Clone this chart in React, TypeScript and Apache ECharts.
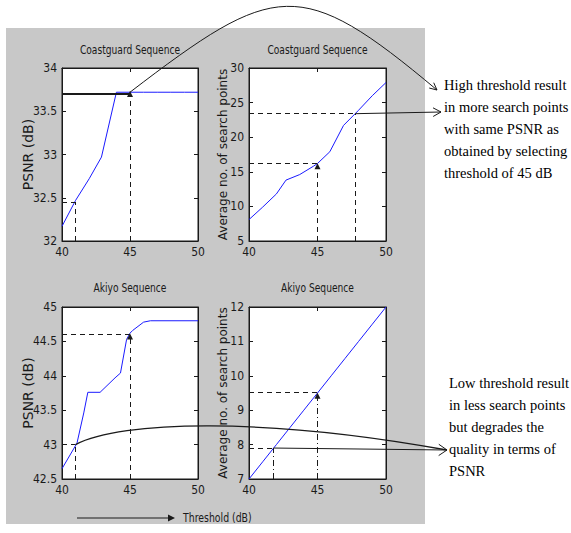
import React, { useEffect, useRef } from "react";
import * as echarts from "echarts";

// ---- data ----
const xRange = { min: 40, max: 50, interval: 5 };

const cgThreshold = [40, 41, 42, 42.9, 44, 45, 46, 47, 48, 49, 50];
const cgPsnr = [32.17, 32.47, 32.72, 32.97, 33.72, 33.72, 33.72, 33.72, 33.72, 33.72, 33.72];

const cgSpThreshold = [40, 41, 42, 42.7, 43.7, 44.7, 45, 45.9, 46.9, 47.75, 48, 49, 50];
const cgSearchPoints = [8.1, 9.9, 11.8, 13.8, 14.6, 15.8, 16.2, 17.9, 21.7, 23.4, 23.9, 26, 27.9];

const akThreshold = [40, 41.1, 41.6, 41.9, 42.8, 43.9, 44.3, 44.75, 45, 45.2, 46, 46.5, 50];
const akPsnr = [42.65, 43.02, 43.46, 43.76, 43.76, 43.97, 44.04, 44.53, 44.62, 44.66, 44.78, 44.8, 44.8];

const akSpThreshold = [40, 41, 42, 43, 44, 45, 46, 47, 48, 49, 50];
const akSearchPoints = [7, 7.5, 8, 8.5, 9, 9.5, 10, 10.5, 11, 11.5, 12];

// y axis ranges [min, max, interval]
const yRanges = [
  [32, 34, 0.5],
  [5, 30, 5],
  [42.5, 45, 0.5],
  [7, 12, 1],
];

const titles = ["Coastguard Sequence", "Coastguard Sequence", "Akiyo Sequence", "Akiyo Sequence"];
const yNames = ["PSNR (dB)", "Average no. of search points", "PSNR (dB)", "Average no. of search points"];

// annotation values (threshold / measured value)
const refThreshold = 45;
const cgRefPsnr = 33.7;
const cgLowThr = 41;
const cgLowPsnr = 32.45;
const cgRefSp = 16.2;
const cgHighThr = 47.75;
const cgHighSp = 23.4;
const akRefPsnr = 44.6;
const akLowThr = 41;
const akLowPsnr = 43.0;
const akRefSp = 9.52;
const akSpLowThr = 41.8;
const akSpLow = 7.9;

const topText = "High threshold result\nin more search points\nwith same PSNR as\nobtained by selecting\nthreshold of 45 dB";
const bottomText = "Low threshold result\nin less search points\nbut degrades the\nquality in terms of\nPSNR";

const zip = (a: number[], b: number[]) => a.map((v, i) => [v, b[i]]);

const NARROW = "'Liberation Sans Narrow', 'DejaVu Sans Condensed', 'Liberation Sans', sans-serif";
const INK = "#1a1a1a";
const BLUE = "#1a1aff";
const DASH = [5, 4];
const DASHDOT = [6, 3, 1, 3];

const grids = [
  { left: 62, top: 68, width: 136, height: 173 },
  { left: 249, top: 68, width: 137, height: 173 },
  { left: 62, top: 307, width: 136, height: 172 },
  { left: 249, top: 307, width: 137, height: 172 },
];

function seg(x1: number, y1: number, x2: number, y2: number, type: any = DASH, width = 1) {
  return [
    { coord: [x1, y1], lineStyle: { type, color: INK, width } },
    { coord: [x2, y2] },
  ];
}

function plainMarkLine(data: any[]) {
  return {
    silent: true,
    symbol: ["none", "none"],
    label: { show: false },
    emphasis: { disabled: true },
    animation: false,
    data,
  };
}

function arrowMarkLine(data: any[]) {
  return {
    silent: true,
    symbol: ["none", "triangle"],
    symbolSize: 6,
    label: { show: false },
    emphasis: { disabled: true },
    animation: false,
    data,
  };
}

function barbs(tip: number[], from: number[], len = 8, ang = 0.5) {
  const a = Math.atan2(tip[1] - from[1], tip[0] - from[0]);
  const b1 = [tip[0] - len * Math.cos(a - ang), tip[1] - len * Math.sin(a - ang)];
  const b2 = [tip[0] - len * Math.cos(a + ang), tip[1] - len * Math.sin(a + ang)];
  return {
    type: "polyline",
    silent: true,
    shape: { points: [b1, tip, b2] },
    style: { stroke: INK, fill: null, lineWidth: 1 },
  };
}

export default function App() {
  const ref = useRef<HTMLDivElement>(null);

  useEffect(() => {
    if (!ref.current) return;
    const chart = echarts.init(ref.current, undefined, { renderer: "svg" });

    const xAxes: any[] = [];
    const yAxes: any[] = [];
    const axisCommon = {
      axisLine: { show: true, lineStyle: { color: INK, width: 1 } },
      axisTick: { show: true, inside: true, length: 4, lineStyle: { color: INK } },
      splitLine: { show: false },
    };
    for (let i = 0; i < 4; i++) {
      xAxes.push({
        type: "value",
        gridIndex: i,
        position: "bottom",
        ...xRange,
        ...axisCommon,
        axisLabel: { color: INK, fontFamily: NARROW, fontSize: 12, margin: 5 },
      });
    }
    for (let i = 0; i < 4; i++) {
      xAxes.push({
        type: "value",
        gridIndex: i,
        position: "top",
        ...xRange,
        ...axisCommon,
        axisLabel: { show: false },
      });
    }
    for (let i = 0; i < 4; i++) {
      yAxes.push({
        type: "value",
        gridIndex: i,
        position: "left",
        min: yRanges[i][0],
        max: yRanges[i][1],
        interval: yRanges[i][2],
        ...axisCommon,
        axisLabel: { color: INK, fontFamily: NARROW, fontSize: 12, margin: 5 },
      });
    }
    for (let i = 0; i < 4; i++) {
      yAxes.push({
        type: "value",
        gridIndex: i,
        position: "right",
        min: yRanges[i][0],
        max: yRanges[i][1],
        interval: yRanges[i][2],
        ...axisCommon,
        axisLabel: { show: false },
      });
    }

    const blue = (i: number, data: number[][], extra: any = {}) => ({
      type: "line",
      xAxisIndex: i,
      yAxisIndex: i,
      data,
      showSymbol: false,
      symbol: "none",
      silent: true,
      lineStyle: { color: BLUE, width: 1 },
      z: 3,
      ...extra,
    });
    const holder = (i: number, pt: number[], markLine: any) => ({
      type: "line",
      xAxisIndex: i,
      yAxisIndex: i,
      data: [pt],
      showSymbol: false,
      symbol: "none",
      silent: true,
      lineStyle: { width: 0 },
      markLine,
      z: 4,
    });

    const ymin = (i: number) => yRanges[i][0];
    const xmin = xRange.min;

    const series: any[] = [
      blue(0, zip(cgThreshold, cgPsnr), {
        markLine: plainMarkLine([
          seg(xmin, cgRefPsnr, refThreshold, cgRefPsnr, "solid", 2),
          seg(cgLowThr, ymin(0), cgLowThr, cgLowPsnr),
          seg(xmin, cgLowPsnr, cgLowThr + 0.05, cgLowPsnr),
        ]),
      }),
      holder(0, [refThreshold, cgRefPsnr], arrowMarkLine([seg(refThreshold, ymin(0), refThreshold, cgRefPsnr)])),
      blue(1, zip(cgSpThreshold, cgSearchPoints), {
        markLine: plainMarkLine([
          seg(xmin, cgRefSp, refThreshold, cgRefSp),
          seg(xmin, cgHighSp, cgHighThr, cgHighSp),
          seg(cgHighThr, ymin(1), cgHighThr, cgHighSp),
        ]),
      }),
      holder(1, [refThreshold, cgRefSp], arrowMarkLine([seg(refThreshold, ymin(1), refThreshold, cgRefSp - 0.4)])),
      blue(2, zip(akThreshold, akPsnr), {
        markLine: plainMarkLine([
          seg(xmin, akRefPsnr, refThreshold, akRefPsnr),
          seg(xmin, akLowPsnr, akLowThr, akLowPsnr),
          seg(akLowThr, ymin(2), akLowThr, akLowPsnr),
        ]),
      }),
      holder(2, [refThreshold, akRefPsnr], arrowMarkLine([seg(refThreshold, ymin(2), refThreshold, akRefPsnr - 0.03)])),
      blue(3, zip(akSpThreshold, akSearchPoints), {
        markLine: plainMarkLine([
          seg(xmin, akRefSp, refThreshold, akRefSp),
          seg(xmin, akSpLow, akSpLowThr, akSpLow),
          seg(akSpLowThr, ymin(3), akSpLowThr, akSpLow, DASHDOT),
        ]),
      }),
      holder(3, [refThreshold, akRefSp], arrowMarkLine([seg(refThreshold, ymin(3), refThreshold, akRefSp - 0.1, DASHDOT)])),
    ];

    chart.setOption({
      animation: false,
      backgroundColor: "transparent",
      grid: grids.map((g) => ({
        ...g,
        show: true,
        backgroundColor: "#ffffff",
        borderColor: INK,
        borderWidth: 1,
        containLabel: false,
      })),
      xAxis: xAxes,
      yAxis: yAxes,
      series,
    });

    const px = (i: number, pt: number[]) =>
      chart.convertToPixel({ xAxisIndex: i, yAxisIndex: i } as any, pt) as unknown as number[];

    const a0 = px(0, [refThreshold, cgRefPsnr + 0.02]);
    const a1 = px(1, [cgHighThr, cgHighSp]);
    const a2 = px(2, [akLowThr, akLowPsnr]);
    const a3 = px(3, [akSpLowThr, akSpLow]);

    const topTip = [437, 90];
    const midTip = [441, 112];
    const lowTip = [447, 450];

    const cp1 = [a0[0] + 145, a0[1] - 111];
    const cp2 = [300, -25];
    const lcp1 = [a2[0] + 45, a2[1] - 24];
    const lcp2 = [265, 417];

    const graphic: any[] = [
      ...titles.map((t, i) => ({
        type: "text",
        silent: true,
        x: grids[i].left + grids[i].width / 2,
        y: i < 2 ? 50 : 288,
        scaleX: 0.78,
        style: {
          text: t,
          x: 0,
          y: 0,
          align: "center",
          verticalAlign: "middle",
          fontFamily: NARROW,
          fontSize: 13,
          fill: INK,
        },
      })),
      ...yNames.map((t, i) => ({
        type: "text",
        silent: true,
        x: i % 2 === 0 ? 28 : 223,
        y: grids[i].top + grids[i].height / 2,
        rotation: Math.PI / 2,
        style: {
          text: t,
          x: 0,
          y: 0,
          align: "center",
          verticalAlign: "middle",
          fontFamily: "'DejaVu Sans', sans-serif",
          fontSize: i % 2 === 0 ? 14 : 12,
          fill: INK,
        },
      })),
      {
        type: "bezierCurve",
        silent: true,
        shape: { x1: a0[0], y1: a0[1], cpx1: cp1[0], cpy1: cp1[1], cpx2: cp2[0], cpy2: cp2[1], x2: topTip[0], y2: topTip[1] },
        style: { stroke: INK, fill: null, lineWidth: 1 },
        z: 10,
      },
      barbs(topTip, cp2, 8, 0.45),
      {
        type: "line",
        silent: true,
        shape: { x1: a1[0], y1: a1[1], x2: midTip[0], y2: midTip[1] },
        style: { stroke: INK, lineWidth: 1 },
        z: 10,
      },
      barbs(midTip, [a1[0], a1[1]], 9, 0.5),
      {
        type: "bezierCurve",
        silent: true,
        shape: { x1: a2[0], y1: a2[1], cpx1: lcp1[0], cpy1: lcp1[1], cpx2: lcp2[0], cpy2: lcp2[1], x2: lowTip[0], y2: lowTip[1] },
        style: { stroke: INK, fill: null, lineWidth: 1.3 },
        z: 10,
      },
      {
        type: "line",
        silent: true,
        shape: { x1: a3[0], y1: a3[1], x2: lowTip[0], y2: lowTip[1] },
        style: { stroke: INK, lineWidth: 1 },
        z: 10,
      },
      barbs(lowTip, [a3[0], a3[1]], 10, 0.6),
      {
        type: "line",
        silent: true,
        shape: { x1: 77, y1: 518, x2: 170, y2: 518 },
        style: { stroke: INK, lineWidth: 1.2 },
      },
      {
        type: "polygon",
        silent: true,
        shape: { points: [[168, 514.5], [175, 518], [168, 521.5]] },
        style: { fill: INK },
      },
      {
        type: "text",
        silent: true,
        x: 183,
        y: 518,
        scaleX: 0.8,
        style: {
          text: "Threshold (dB)",
          x: 0,
          y: 0,
          align: "left",
          verticalAlign: "middle",
          fontFamily: NARROW,
          fontSize: 13,
          fill: INK,
        },
      },
      {
        type: "text",
        silent: true,
        style: {
          text: topText,
          x: 444,
          y: 74,
          align: "left",
          verticalAlign: "top",
          fontFamily: "'Liberation Serif', 'DejaVu Serif', serif",
          fontSize: 14.5,
          lineHeight: 22,
          fill: "#000",
        },
      },
      {
        type: "text",
        silent: true,
        style: {
          text: bottomText,
          x: 449,
          y: 372,
          align: "left",
          verticalAlign: "top",
          fontFamily: "'Liberation Serif', 'DejaVu Serif', serif",
          fontSize: 14.5,
          lineHeight: 22,
          fill: "#000",
        },
      },
    ];

    chart.setOption({ graphic });

    return () => chart.dispose();
  }, []);

  return (
    <div style={{ position: "absolute", left: 0, top: 0, width: 571, height: 533, background: "#ffffff" }}>
      <div
        style={{ position: "absolute", left: 6, top: 28, width: 419, height: 496, background: "#c8c8c8" }}
      />
      <div ref={ref} style={{ position: "absolute", left: 0, top: 0, width: 571, height: 533 }} />
    </div>
  );
}
